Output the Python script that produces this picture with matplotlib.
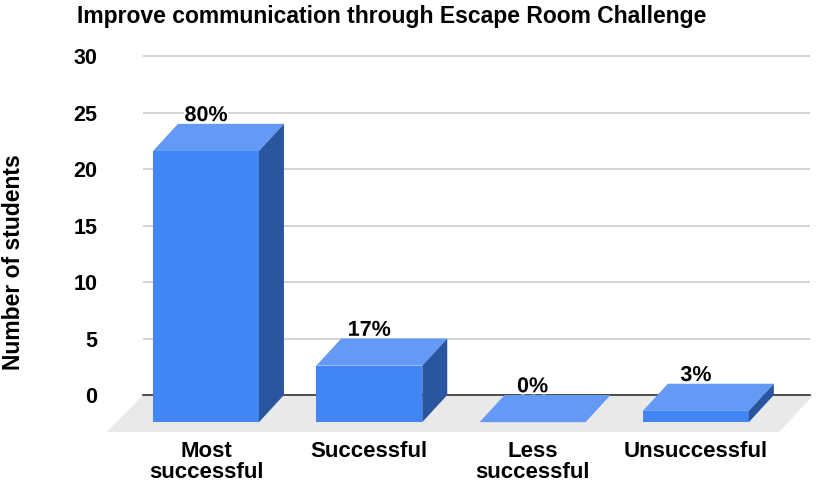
import matplotlib.pyplot as plt
from matplotlib.patches import Polygon
import matplotlib.patheffects as pe

plt.rcParams['font.family'] = ['Liberation Sans', 'DejaVu Sans']

categories = ['Most\nsuccessful', 'Successful', 'Less\nsuccessful', 'Unsuccessful']
students = [24, 5, 0, 1]
labels = ['80%', '17%', '0%', '3%']

front_c = '#4285f4'
top_c = '#6499f5'
side_c = '#2a56a0'

fig = plt.figure(figsize=(8.2, 4.87), dpi=100)
ax = fig.add_axes([143 / 820, 0, 667 / 820, 1])
ax.set_xlim(-0.3858, 3.699)
ax.set_ylim(-8.14, 34.96)
for s in ax.spines.values():
    s.set_visible(False)

ax.set_yticks(range(0, 31, 5))
ax.set_xticks([])
ax.tick_params(axis='y', length=0, pad=33, labelsize=15.5)
for t in ax.get_yticklabels():
    t.set_fontweight('bold')
ax.yaxis.grid(True, color='#cccccc', linewidth=1.2)
ax.set_axisbelow(True)

w = 0.649    # bar width
dx = 0.153   # depth in x
dy = 2.4     # depth in y

# floor
floor = Polygon([(-0.3858, 0), (3.72, 0), (3.51, -3.27), (-0.606, -3.27)],
                closed=True, facecolor='#e9e9e9', edgecolor='none',
                clip_on=False, zorder=1)
ax.add_patch(floor)
ax.plot([-0.3858, 3.699], [0, 0], color='#333333', lw=1.2, zorder=2,
        clip_on=False)

for i, (v, lab) in enumerate(zip(students, labels)):
    l, r = i - w / 2, i + w / 2
    top = Polygon([(l, v - dy), (r, v - dy), (r + dx, v), (l + dx, v)],
                  closed=True, facecolor=top_c, edgecolor='none',
                  clip_on=False, zorder=3)
    ax.add_patch(top)
    if v > 0:
        front = Polygon([(l, -dy), (r, -dy), (r, v - dy), (l, v - dy)],
                        closed=True, facecolor=front_c, edgecolor='none',
                        clip_on=False, zorder=3)
        side = Polygon([(r, -dy), (r + dx, 0), (r + dx, v), (r, v - dy)],
                       closed=True, facecolor=side_c, edgecolor='none',
                       clip_on=False, zorder=3)
        ax.add_patch(front)
        ax.add_patch(side)
    ax.text(i, v - 0.2, lab, ha='center', va='bottom', fontsize=15.5,
            fontweight='bold', zorder=5,
            path_effects=[pe.withStroke(linewidth=3, foreground='white')])

for i, c in enumerate(categories):
    ax.text(i, -4.1, c, ha='center', va='top', fontsize=16,
            fontweight='bold', linespacing=1.0)

fig.text(392 / 820, 1 - 16 / 487, 'Improve communication through Escape Room Challenge',
         ha='center', va='center', fontsize=16.5, fontweight='bold')
fig.text(14 / 820, 1 - 262 / 487, 'Number of students', rotation=90,
         ha='center', va='center', fontsize=16.5, fontweight='bold')

fig.savefig('out.png', dpi=100)
